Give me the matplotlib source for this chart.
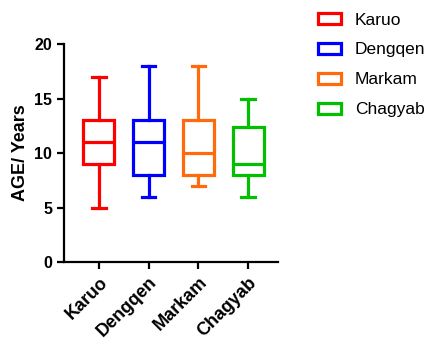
import matplotlib.pyplot as plt
from matplotlib.patches import Patch

plt.rcParams['font.family'] = ['Liberation Sans', 'DejaVu Sans']

regions = ['Karuo', 'Dengqen', 'Markam', 'Chagyab']
colors = ['#ff0000', '#0000ff', '#ff6a0d', '#00c000']
whislo = [5, 6, 7, 6]
q1 = [9, 8, 8, 8]
med = [11, 11, 10, 9]
q3 = [13, 13, 13, 12.4]
whishi = [17, 18, 18, 15]

stats = []
for i in range(len(regions)):
    stats.append({'label': regions[i], 'whislo': whislo[i], 'q1': q1[i], 'med': med[i],
                  'q3': q3[i], 'whishi': whishi[i], 'fliers': []})

fig = plt.figure(figsize=(4.27, 3.42), dpi=100)
ax = fig.add_axes([0.15, 0.234, 0.501, 0.637])

bp = ax.bxp(stats, positions=[1, 2, 3, 4], widths=0.62, capwidths=0.27,
            showfliers=False, patch_artist=True)
for i, c in enumerate(colors):
    bp['boxes'][i].set(facecolor='white', edgecolor=c, linewidth=2.3)
    bp['medians'][i].set(color=c, linewidth=2.3)
    for j in (2 * i, 2 * i + 1):
        bp['whiskers'][j].set(color=c, linewidth=2.3)
        bp['caps'][j].set(color=c, linewidth=2.3)

ax.set_xlim(0.3, 4.6)
ax.set_ylim(0, 20)
ax.set_yticks([0, 5, 10, 15, 20])
ax.set_xticks([1, 2, 3, 4])
ax.set_xticklabels(regions, rotation=45, ha='right', rotation_mode='anchor',
                   fontsize=13, fontweight='bold')
for t in ax.get_yticklabels():
    t.set_fontsize(11.5)
    t.set_fontweight('bold')
ax.set_ylabel('AGE/ Years', fontsize=13, fontweight='bold')

for s in ['top', 'right']:
    ax.spines[s].set_visible(False)
for s in ['left', 'bottom']:
    ax.spines[s].set_linewidth(1.6)
ax.tick_params(width=1.6, length=5)

handles = [Patch(facecolor='white', edgecolor=c, linewidth=2.3) for c in colors]
fig.legend(handles, regions, loc='upper left', bbox_to_anchor=(0.708, 1.009),
           frameon=False, fontsize=12.5, handlelength=1.32, handleheight=0.63,
           labelspacing=0.86)

fig.savefig('out.png', dpi=100)
